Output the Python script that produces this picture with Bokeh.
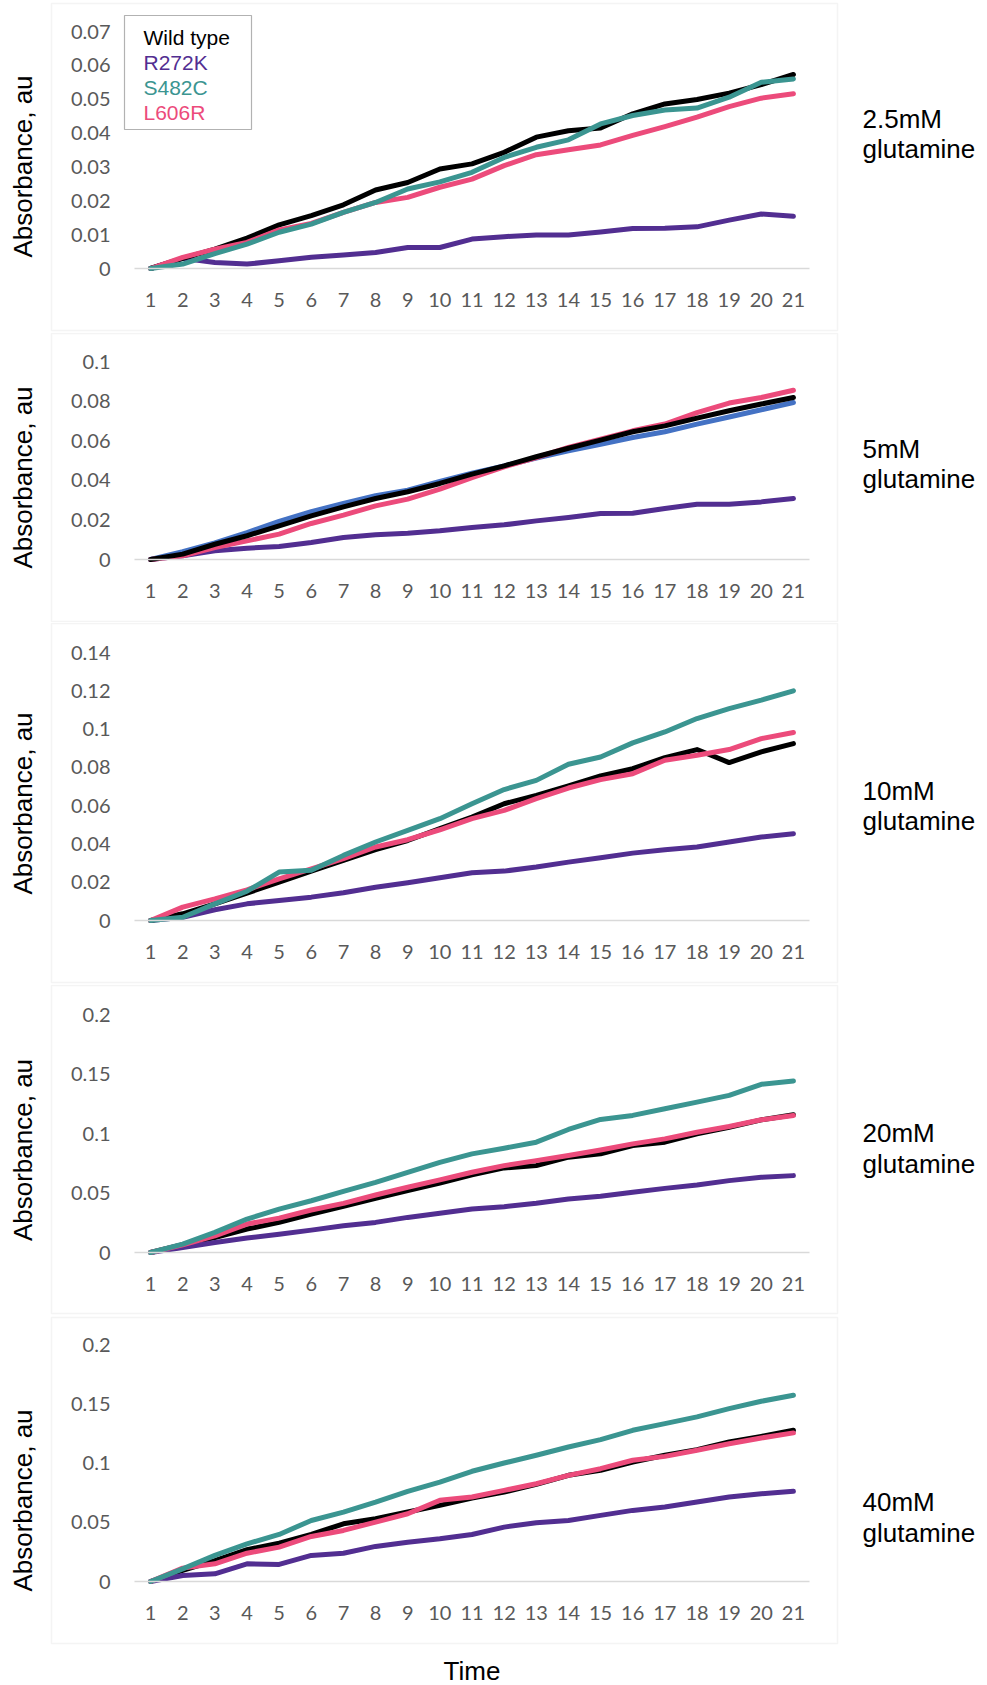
from bokeh.plotting import figure
from bokeh.models import FixedTicker, BoxAnnotation, Label, Range1d, NumeralTickFormatter
from bokeh.layouts import column
from bokeh.embed import file_html
from bokeh.resources import INLINE

# ---------------- data ----------------
time = list(range(1, 22))
series_names = ["Wild type", "R272K", "S482C", "L606R"]
conc_labels = ["2.5mM", "5mM", "10mM", "20mM", "40mM"]

# 2.5 mM glutamine
wt_2p5 = [0, 0.003, 0.0057, 0.009, 0.0129, 0.0156, 0.0188, 0.0232, 0.0254, 0.0294, 0.0309,
          0.0343, 0.0388, 0.0407, 0.0415, 0.0457, 0.0486, 0.0499, 0.0518, 0.0543, 0.0573]
r272k_2p5 = [0, 0.003, 0.0018, 0.0013, 0.0023, 0.0033, 0.004, 0.0047, 0.0062, 0.0062, 0.0087,
             0.0094, 0.0099, 0.0099, 0.0108, 0.0118, 0.0119, 0.0123, 0.0143, 0.0161, 0.0154]
s482c_2p5 = [0, 0.0013, 0.0044, 0.0072, 0.0107, 0.0131, 0.0166, 0.0195, 0.0235, 0.0256, 0.0284,
             0.0328, 0.0358, 0.038, 0.0427, 0.0452, 0.0468, 0.0474, 0.0506, 0.055, 0.056]
l606r_2p5 = [0, 0.0033, 0.0057, 0.0077, 0.0114, 0.0133, 0.0166, 0.0195, 0.021, 0.024, 0.0264,
             0.0304, 0.0336, 0.0351, 0.0365, 0.0393, 0.0419, 0.0447, 0.0478, 0.0503, 0.0516]

# 5 mM glutamine
wt_5 = [0, 0.0027, 0.0077, 0.012, 0.017, 0.022, 0.0266, 0.0308, 0.0342, 0.0384, 0.0431,
        0.0473, 0.0519, 0.0562, 0.0603, 0.0645, 0.0675, 0.0714, 0.0751, 0.0785, 0.0818]
r272k_5 = [0, 0.0019, 0.0044, 0.0057, 0.0066, 0.0086, 0.0111, 0.0125, 0.0133, 0.0145, 0.0162,
           0.0175, 0.0195, 0.0212, 0.0232, 0.0234, 0.0258, 0.0279, 0.0279, 0.0291, 0.0308]
s482c_5 = [0, 0.0039, 0.0084, 0.0136, 0.0192, 0.0242, 0.0283, 0.0322, 0.035, 0.0394, 0.0436,
           0.0473, 0.0512, 0.0549, 0.0582, 0.0616, 0.0645, 0.0684, 0.072, 0.0756, 0.0793]
l606r_5 = [0, 0.0019, 0.006, 0.0094, 0.0128, 0.0182, 0.0224, 0.0271, 0.0305, 0.0355, 0.0414,
           0.0468, 0.0515, 0.0566, 0.0608, 0.065, 0.0684, 0.0742, 0.079, 0.0818, 0.0855]

# 10 mM glutamine
wt_10 = [0, 0.0035, 0.0087, 0.0143, 0.0201, 0.0258, 0.0314, 0.037, 0.0418, 0.048, 0.054,
         0.061, 0.0654, 0.0703, 0.0755, 0.0793, 0.0851, 0.0893, 0.0825, 0.0881, 0.0924]
r272k_10 = [0, 0.0017, 0.0056, 0.0087, 0.0105, 0.0122, 0.0145, 0.0174, 0.0197, 0.0223, 0.0249,
            0.0258, 0.0279, 0.0305, 0.0328, 0.0352, 0.037, 0.0384, 0.041, 0.0436, 0.0453]
s482c_10 = [0, 0.0017, 0.0087, 0.0153, 0.0253, 0.0262, 0.034, 0.041, 0.0471, 0.0532, 0.061,
            0.0684, 0.0732, 0.0816, 0.0854, 0.0928, 0.0985, 0.1055, 0.1107, 0.1151, 0.12]
l606r_10 = [0, 0.007, 0.0113, 0.016, 0.0218, 0.027, 0.0323, 0.0384, 0.0422, 0.0474, 0.0532,
            0.0575, 0.0637, 0.0692, 0.0736, 0.0767, 0.0837, 0.0863, 0.0893, 0.095, 0.0982]

# 20 mM glutamine
wt_20 = [0, 0.0065, 0.0126, 0.0197, 0.0253, 0.0323, 0.0388, 0.0455, 0.052, 0.0584, 0.0652,
         0.0711, 0.073, 0.0801, 0.0829, 0.0899, 0.0927, 0.0997, 0.1053, 0.1115, 0.1157]
r272k_20 = [0, 0.0042, 0.0084, 0.0121, 0.0154, 0.0188, 0.0225, 0.0253, 0.0295, 0.0329, 0.0365,
            0.0385, 0.0413, 0.0449, 0.0472, 0.0506, 0.0539, 0.0567, 0.0604, 0.0632, 0.0646]
s482c_20 = [0, 0.007, 0.0169, 0.0281, 0.0365, 0.0435, 0.0514, 0.059, 0.0674, 0.0758, 0.0829,
            0.0876, 0.0927, 0.1034, 0.1118, 0.1152, 0.1208, 0.1264, 0.132, 0.1413, 0.1441]
l606r_20 = [0, 0.0065, 0.014, 0.0239, 0.0289, 0.0357, 0.0413, 0.0483, 0.0548, 0.061, 0.0674,
            0.073, 0.0772, 0.0815, 0.0862, 0.0913, 0.0955, 0.1011, 0.1059, 0.1115, 0.1152]

# 40 mM glutamine
wt_40 = [0, 0.0093, 0.0177, 0.0268, 0.0324, 0.0397, 0.0487, 0.053, 0.0586, 0.0642, 0.0704,
         0.0755, 0.082, 0.0896, 0.0938, 0.1008, 0.1065, 0.1113, 0.1177, 0.1225, 0.1276]
r272k_40 = [0, 0.0051, 0.0065, 0.0149, 0.0144, 0.022, 0.0239, 0.0296, 0.0332, 0.0361, 0.0397,
            0.0459, 0.0496, 0.0515, 0.0558, 0.06, 0.0628, 0.0671, 0.0713, 0.0741, 0.0761]
s482c_40 = [0, 0.0107, 0.022, 0.0318, 0.0397, 0.0515, 0.0586, 0.067, 0.0761, 0.0839, 0.093,
            0.1, 0.1065, 0.1135, 0.1197, 0.1276, 0.1332, 0.1389, 0.1459, 0.1521, 0.1572]
l606r_40 = [0, 0.0113, 0.0149, 0.0239, 0.029, 0.038, 0.0431, 0.0501, 0.0572, 0.0685, 0.0713,
            0.0769, 0.0825, 0.0896, 0.0952, 0.1023, 0.1056, 0.1107, 0.1163, 0.1211, 0.1254]

yticks_2p5 = [0, 0.01, 0.02, 0.03, 0.04, 0.05, 0.06, 0.07]
yticks_5 = [0, 0.02, 0.04, 0.06, 0.08, 0.1]
yticks_10 = [0, 0.02, 0.04, 0.06, 0.08, 0.1, 0.12, 0.14]
yticks_20 = [0, 0.05, 0.1, 0.15, 0.2]
yticks_40 = [0, 0.05, 0.1, 0.15, 0.2]

# ---------------- styles ----------------
BLACK = "#000000"
PURPLE = "#522E91"
TEAL = "#3B9591"
PINK = "#EC4B7B"
BLUE = "#4472C4"
GRAY = "#D9D9D9"
TICK_COLOR = "#595959"
TICK_FONT = "Lato"
TEXT_FONT = "Liberation Sans"

# page geometry (page px)
PAGE_X0 = 0          # canvas left on the page
PLOT_LEFT = 134      # page x of data-area left (x = 0.5)
PLOT_WIDTH = 675     # data area width (0.5 .. 21.5)
FIG_WIDTH = 979
FRAME_LEFT, FRAME_RIGHT = 51, 837
LABEL_X = 862

# canvas top/bottom, data top/bottom, frame top/bottom, label line centres
panels = [
    dict(data=[wt_2p5, r272k_2p5, s482c_2p5, l606r_2p5], colors=[BLACK, PURPLE, TEAL, PINK],
         order=[1, 0, 3, 2], yticks=yticks_2p5, conc=conc_labels[0],
         geom=(0, 332, 31, 268, 3, 330, 118, 148)),
    dict(data=[wt_5, r272k_5, s482c_5, l606r_5], colors=[BLACK, PURPLE, BLUE, PINK],
         order=[1, 2, 3, 0], yticks=yticks_5, conc=conc_labels[1],
         geom=(332, 622, 361, 559, 333, 621, 448, 478)),
    dict(data=[wt_10, r272k_10, s482c_10, l606r_10], colors=[BLACK, PURPLE, TEAL, PINK],
         order=[1, 0, 3, 2], yticks=yticks_10, conc=conc_labels[2],
         geom=(622, 984, 652, 920, 623, 982, 790, 820)),
    dict(data=[wt_20, r272k_20, s482c_20, l606r_20], colors=[BLACK, PURPLE, TEAL, PINK],
         order=[0, 1, 3, 2], yticks=yticks_20, conc=conc_labels[3],
         geom=(984, 1315, 1014, 1252, 985, 1313, 1132, 1163)),
    dict(data=[wt_40, r272k_40, s482c_40, l606r_40], colors=[BLACK, PURPLE, TEAL, PINK],
         order=[0, 1, 3, 2], yticks=yticks_40, conc=conc_labels[4],
         geom=(1315, 1685, 1344, 1581, 1317, 1643, 1501, 1532)),
]

px_per_x = PLOT_WIDTH / 21.0
x_start = 0.5 - (PLOT_LEFT - PAGE_X0) / px_per_x
x_end = 21.5 + (PAGE_X0 + FIG_WIDTH - (PLOT_LEFT + PLOT_WIDTH)) / px_per_x

figs = []
for idx, pnl in enumerate(panels):
    ct, cb, pt, pb, ft, fb, l1, l2 = pnl["geom"]
    yt = pnl["yticks"]
    ymax = yt[-1]
    per_px = ymax / (pb - pt)
    y_start = -(cb - pb) * per_px
    y_end = ymax + (pt - ct) * per_px

    p = figure(width=FIG_WIDTH, height=cb - ct, output_backend="svg", toolbar_location=None,
               x_range=Range1d(x_start, x_end), y_range=Range1d(y_start, y_end),
               min_border_left=0, min_border_right=0, min_border_top=0, min_border_bottom=0)
    p.outline_line_color = None
    p.grid.visible = False
    p.background_fill_color = "white"
    p.border_fill_color = "white"

    def sx(x):
        return x - PAGE_X0

    def sy(y):
        return cb - y

    # x axis (placed on the zero line)
    xa = p.xaxis[0]
    xa.fixed_location = 0
    xa.bounds = (0.5, 21.5)
    xa.ticker = FixedTicker(ticks=time)
    xa.axis_line_color = GRAY
    xa.axis_line_width = 1.5
    xa.major_tick_line_color = None
    xa.minor_tick_line_color = None
    xa.major_tick_out = 0
    xa.major_tick_in = 0
    xa.major_label_text_font = TICK_FONT
    xa.major_label_text_font_size = "20px"
    xa.major_label_text_color = TICK_COLOR
    xa.major_label_standoff = 24
    if idx == len(panels) - 1:
        xa.axis_label = "Time"
        xa.axis_label_text_font = TEXT_FONT
        xa.axis_label_text_font_size = "26px"
        xa.axis_label_text_font_style = "normal"
        xa.axis_label_text_color = "black"
        xa.axis_label_standoff = 33

    # y axis (placed at the left edge of the data area)
    ya = p.yaxis[0]
    ya.fixed_location = 0.5
    ya.ticker = FixedTicker(ticks=yt)
    ya.formatter = NumeralTickFormatter(format="0.[00]")
    ya.axis_line_color = None
    ya.major_tick_line_color = None
    ya.minor_tick_line_color = None
    ya.major_tick_out = 0
    ya.major_tick_in = 0
    ya.major_label_text_font = TICK_FONT
    ya.major_label_text_font_size = "20px"
    ya.major_label_text_color = TICK_COLOR
    ya.major_label_standoff = 24
    ya.axis_label = "Absorbance, au"
    ya.axis_label_text_font = TEXT_FONT
    ya.axis_label_text_font_size = "26px"
    ya.axis_label_text_font_style = "normal"
    ya.axis_label_text_color = "black"
    ya.axis_label_standoff = 30

    # panel frame
    p.add_layout(BoxAnnotation(left=sx(FRAME_LEFT), right=sx(FRAME_RIGHT),
                               top=sy(ft), bottom=sy(fb),
                               left_units="screen", right_units="screen",
                               top_units="screen", bottom_units="screen",
                               fill_color=None, fill_alpha=0, line_color=GRAY, line_width=1.5,
                               level="underlay"))

    # lines
    for k in pnl["order"]:
        p.line(time, pnl["data"][k], line_color=pnl["colors"][k], line_width=5,
               line_cap="round", line_join="round")

    # right-hand concentration label
    for txt, yy in [(pnl["conc"], l1), ("glutamine", l2)]:
        p.add_layout(Label(x=sx(LABEL_X), y=sy(yy), x_units="screen", y_units="screen",
                           text=txt, text_font=TEXT_FONT, text_font_size="26px",
                           text_color="black", text_align="left", text_baseline="middle"))

    # legend (first panel only)
    if idx == 0:
        p.add_layout(BoxAnnotation(left=sx(124), right=sx(251), top=sy(15), bottom=sy(129),
                                   left_units="screen", right_units="screen",
                                   top_units="screen", bottom_units="screen",
                                   fill_color="white", fill_alpha=1, line_color="black",
                                   line_width=1.2))
        for name, col, yy in zip(series_names, pnl["colors"], [37, 62, 87, 112]):
            p.add_layout(Label(x=sx(143), y=sy(yy), x_units="screen", y_units="screen",
                               text=name, text_font=TEXT_FONT, text_font_size="21px",
                               text_color=col, text_align="left", text_baseline="middle"))
    figs.append(p)

layout = column(*figs, spacing=0)
open("out.html", "w").write(file_html(layout, INLINE))
